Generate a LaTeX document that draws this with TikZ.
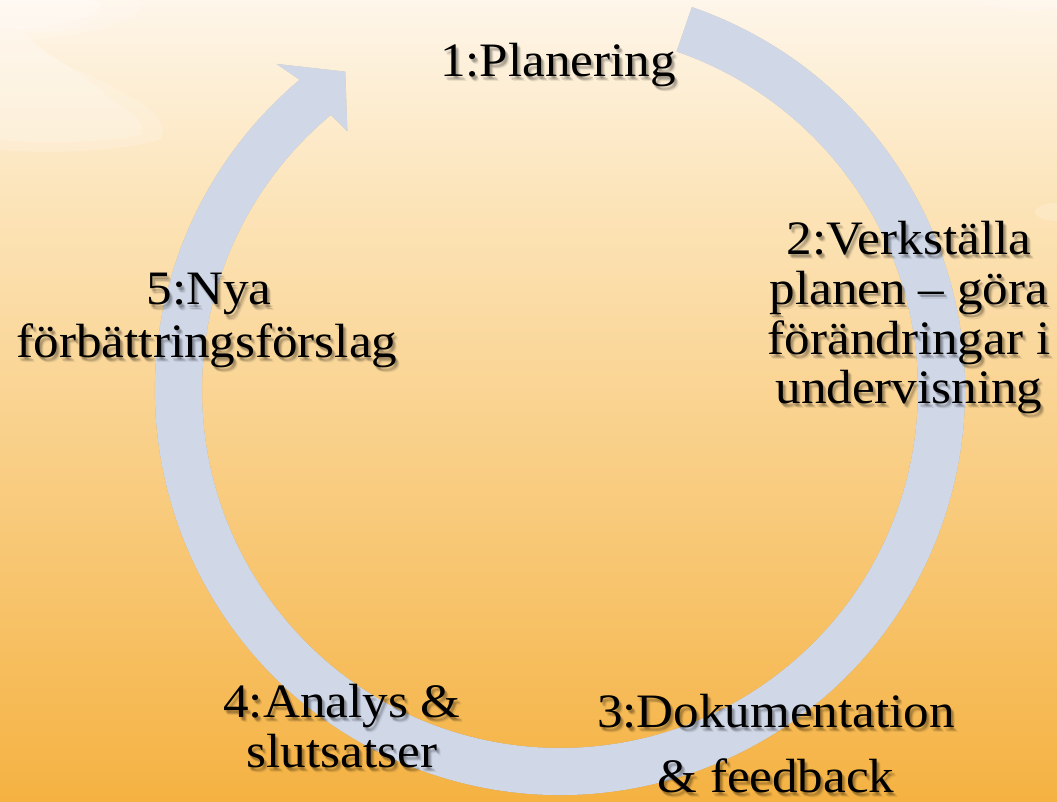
\documentclass[tikz,border=0pt]{standalone}
\usepackage{fontspec}
\setmainfont{Liberation Serif}[FakeStretch=1.065]
\usetikzlibrary{calc}
\definecolor{bgtop}{RGB}{254,246,234}
\definecolor{bgmid}{RGB}{252,228,185}
\definecolor{bgbot}{RGB}{245,178,66}
\definecolor{bandcol}{RGB}{208,216,232}
\tikzset{
  lbltxt/.style={font=\fontsize{48}{50}\selectfont, anchor=base, inner sep=0pt, text=black},
  lblshadow/.style={lbltxt, text=black, opacity=0.07},
  cloud/.style={fill=white, opacity=0.18, draw=none},
}
\newcommand\lbl[4]{%
  \foreach \dx/\dy in {1/2,2/3,3/4,2/4,3/3,4/5} {\node[lblshadow, name=#1sh\dx\dy] at (#2+\dx,#3+\dy) {#4};}
  \node[lbltxt] (#1) at (#2,#3) {#4};}
\newcommand\bandpath{%
  ($(c)+(-71:405)$) arc[start angle=-71, end angle=230, radius=405]
  -- ($(c)+(229:432)$) -- ($(c)+(236:384)$) -- ($(c)+(230.6:335)$)
  -- ($(c)+(230.2:358)$) arc[start angle=230.2, end angle=-71, radius=358] -- cycle}
\begin{document}
\begin{tikzpicture}[x=1pt, y=-1pt]
  \useasboundingbox (0,0) rectangle (1057,802);
  % background
  \shade[top color=bgtop, bottom color=bgmid, draw=none] (0,0) rectangle (1057,201);
  \shade[top color=bgmid, bottom color=bgbot, draw=none] (0,200) rectangle (1057,802);
  % faint clouds (wing-like)
  \fill[cloud] (0,0) -- (140,0) .. controls (150,20) and (90,35) .. (30,40)
    .. controls (60,70) and (110,80) .. (125,95)
    .. controls (150,105) and (170,125) .. (160,140)
    .. controls (120,150) and (60,155) .. (0,150) -- cycle;
  \fill[cloud] (0,0) -- (100,0) .. controls (110,15) and (60,25) .. (20,30)
    .. controls (50,60) and (90,75) .. (110,100)
    .. controls (130,110) and (150,125) .. (140,135)
    .. controls (100,142) and (50,145) .. (0,140) -- cycle;
  \fill[cloud] (40,10) ellipse[x radius=60, y radius=22];
  \fill[cloud] (1030,0) ellipse[x radius=50, y radius=10];
  \fill[cloud] (1057,212) ellipse[x radius=22, y radius=9];
  % circular arrow
  \coordinate (c) at (560,390);
  \fill[black, opacity=0.10] [shift={(1.5,2)}] \bandpath;
  \fill[black, opacity=0.10] [shift={(3,4)}] \bandpath;
  \fill[bandcol] \bandpath;
  % labels
  \lbl{l1}{558}{77}{1:Planering}
  \lbl{l2a}{909}{255}{2:Verkställa}
  \lbl{l2b}{909}{304}{planen – göra}
  \lbl{l2c}{909}{354}{förändringar i}
  \lbl{l2d}{909}{403}{undervisning}
  \lbl{l3a}{776}{727}{3:Dokumentation}
  \lbl{l3b}{776}{792}{\& feedback}
  \lbl{l4a}{342}{717}{4:Analys \&}
  \lbl{l4b}{342}{767}{slutsatser}
  \lbl{l5a}{209}{305}{5:Nya}
  \lbl{l5b}{207}{357}{förbättringsförslag}
\end{tikzpicture}
\end{document}
